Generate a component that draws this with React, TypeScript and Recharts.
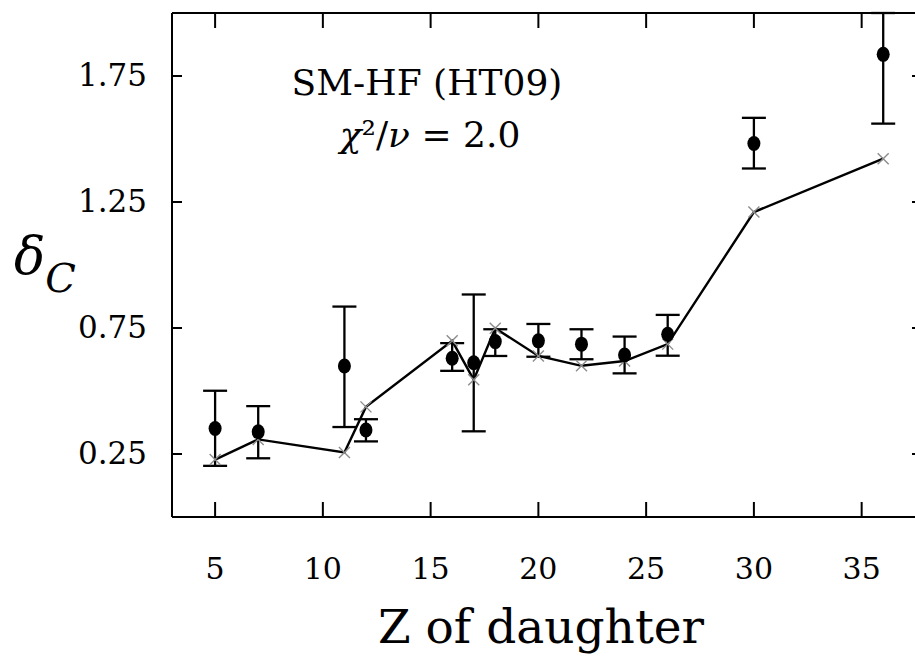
import { ComposedChart, Line, Scatter, ErrorBar, XAxis, YAxis, ReferenceLine } from "recharts"

// Z of daughter nucleus
const zValues = [5, 7, 11, 12, 16, 17, 18, 20, 22, 24, 26, 30, 36]
// experimental delta_C with error bars
const measured = [0.351, 0.338, 0.599, 0.345, 0.63, 0.612, 0.696, 0.699, 0.686, 0.643, 0.725, 1.482, 1.836]
const errDown = [0.148, 0.105, 0.242, 0.045, 0.05, 0.272, 0.057, 0.063, 0.06, 0.073, 0.085, 0.099, 0.275]
const errUp = [0.15, 0.102, 0.236, 0.043, 0.06, 0.271, 0.049, 0.067, 0.059, 0.073, 0.077, 0.102, 0.164]
// SM-HF (HT09) calculation
const smHF = [0.228, 0.308, 0.256, 0.437, 0.699, 0.545, 0.749, 0.639, 0.6, 0.619, 0.686, 1.21, 1.422]

const xTicks = [5, 10, 15, 20, 25, 30, 35]
const yTicks = [0.25, 0.75, 1.25, 1.75]

const data = zValues.map((z, i) => ({
  z,
  exp: measured[i],
  err: [errDown[i], errUp[i]],
  th: smHF[i],
}))

const serif = "'DejaVu Serif', 'Liberation Serif', serif"

// frame edges (px) used for the mirrored inward ticks
const PLOT_TOP = 13
const PLOT_RIGHT = 922

function BottomTick({ x, y, payload }: any) {
  return (
    <g>
      <line x1={x} y1={y} x2={x} y2={y - 15} stroke="#000" strokeWidth={2} />
      <line x1={x} y1={PLOT_TOP} x2={x} y2={PLOT_TOP + 15} stroke="#000" strokeWidth={2} />
      <text x={x} y={y + 62} textAnchor="middle" fontFamily={serif} fontSize={30} fill="#000">
        {payload.value}
      </text>
    </g>
  )
}

function LeftTick({ x, y, payload }: any) {
  return (
    <g>
      <line x1={x} y1={y} x2={x + 10} y2={y} stroke="#000" strokeWidth={2} />
      <line x1={PLOT_RIGHT} y1={y} x2={PLOT_RIGHT - 10} y2={y} stroke="#000" strokeWidth={2} />
      <text x={x - 25} y={y + 10} textAnchor="end" fontFamily={serif} fontSize={31} fill="#000">
        {payload.value}
      </text>
    </g>
  )
}

function Cross(props: any) {
  const { cx, cy, index } = props
  if (cx == null || cy == null) return null
  const s = 5.5
  return (
    <g key={"c" + index}>
      <line x1={cx - s} y1={cy - s} x2={cx + s} y2={cy + s} stroke="#8c8c8c" strokeWidth={1.4} />
      <line x1={cx - s} y1={cy + s} x2={cx + s} y2={cy - s} stroke="#8c8c8c" strokeWidth={1.4} />
    </g>
  )
}

function Dot(props: any) {
  const { cx, cy } = props
  return <ellipse cx={cx} cy={cy} rx={6.5} ry={7.5} fill="#000" />
}

export default function App() {
  return (
    <div style={{ position: "absolute", left: 0, top: 0, width: 915, height: 664, overflow: "hidden", background: "#fff" }}>
      <ComposedChart
        width={940}
        height={664}
        data={data}
        margin={{ top: PLOT_TOP, right: 940 - PLOT_RIGHT, left: 112, bottom: 87 }}
      >
        <XAxis
          dataKey="z"
          type="number"
          domain={[3, 37.8]}
          ticks={xTicks}
          allowDataOverflow
          height={60}
          tickLine={false}
          tickSize={0}
          tickMargin={0}
          tick={<BottomTick />}
          axisLine={{ stroke: "#000", strokeWidth: 2 }}
        />
        <YAxis
          type="number"
          domain={[0, 2]}
          ticks={yTicks}
          allowDataOverflow
          width={60}
          tickLine={false}
          tickSize={0}
          tickMargin={0}
          tick={<LeftTick />}
          axisLine={{ stroke: "#000", strokeWidth: 2 }}
        />
        <ReferenceLine y={2} stroke="#000" strokeWidth={2} />
        <Line
          dataKey="th"
          type="linear"
          stroke="#000"
          strokeWidth={2.4}
          dot={Cross}
          activeDot={false}
          isAnimationActive={false}
        />
        <Scatter dataKey="exp" shape={Dot} isAnimationActive={false}>
          <ErrorBar dataKey="err" direction="y" width={12} stroke="#000" strokeWidth={2.3} />
        </Scatter>
        <text x={427} y={95} textAnchor="middle" fontFamily={serif} fontSize={36} fill="#000">
          SM-HF (HT09)
        </text>
        <text x={430} y={147} textAnchor="middle" fontFamily={serif} fontSize={36} fill="#000">
          <tspan fontStyle="italic">χ</tspan>
          <tspan>²/</tspan>
          <tspan fontStyle="italic">ν</tspan>
          <tspan> = 2.0</tspan>
        </text>
        <text x={14} y={274} fontFamily={serif} fill="#000">
          <tspan fontSize={52} fontStyle="italic">δ</tspan>
          <tspan fontSize={40} fontStyle="italic" dy={18}>C</tspan>
        </text>
        <text x={541} y={643} textAnchor="middle" fontFamily={serif} fontSize={47} fill="#000">
          Z of daughter
        </text>
      </ComposedChart>
    </div>
  )
}
